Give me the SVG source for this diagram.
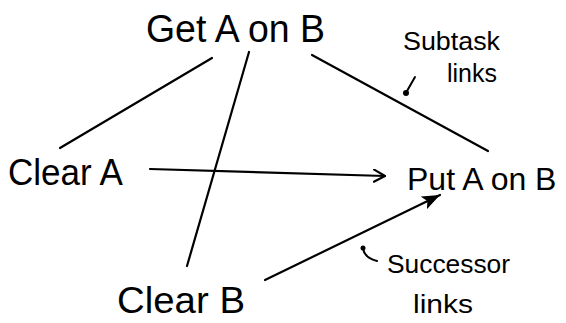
<svg xmlns="http://www.w3.org/2000/svg" width="566" height="323" viewBox="0 0 566 323">
  <style>
    .node { font-family: "Liberation Sans", "DejaVu Sans", sans-serif; fill: #000; }
    .note { font-family: "Liberation Sans", "DejaVu Sans", sans-serif; fill: #000; }
    .link { stroke: #000; stroke-width: 2.2; fill: none; stroke-linecap: round; }
    .ptr { stroke: #000; stroke-width: 2; fill: none; stroke-linecap: round; }
  </style>
  <defs>
    <marker id="open" markerWidth="14" markerHeight="14" refX="12" refY="7" orient="auto" markerUnits="userSpaceOnUse">
      <path d="M1,1 L12,7 L1,13" fill="none" stroke="#000" stroke-width="2.2" stroke-linecap="round" stroke-linejoin="round"/>
    </marker>
    <marker id="solid" markerWidth="20" markerHeight="16" refX="18" refY="8" orient="auto" markerUnits="userSpaceOnUse">
      <path d="M0,1 L18,8 L0,15 L4,8 Z" fill="#000"/>
    </marker>
  </defs>
  <rect width="566" height="323" fill="#fff"/>

  <g id="connectors">
    <line class="link" x1="212" y1="58" x2="60" y2="148"/>
    <line class="link" x1="249" y1="52" x2="187" y2="266"/>
    <line class="link" x1="312" y1="55" x2="488" y2="151"/>
    <line class="link" x1="150" y1="169" x2="385" y2="176" marker-end="url(#open)"/>
    <line class="link" x1="265" y1="280" x2="440" y2="195" marker-end="url(#solid)"/>
  </g>

  <g id="get-a-on-b">
    <text class="node" x="146" y="42" font-size="38" textLength="179" lengthAdjust="spacingAndGlyphs">Get A on B</text>
  </g>
  <g id="clear-a">
    <text class="node" x="8" y="185" font-size="36" textLength="115" lengthAdjust="spacingAndGlyphs">Clear A</text>
  </g>
  <g id="put-a-on-b">
    <text class="node" x="407" y="190" font-size="32">Put A on B</text>
  </g>
  <g id="clear-b">
    <text class="node" x="117" y="313" font-size="36" textLength="128" lengthAdjust="spacingAndGlyphs">Clear B</text>
  </g>

  <g id="subtask-label">
    <text class="note" x="403" y="50" font-size="26" textLength="97" lengthAdjust="spacingAndGlyphs">Subtask</text>
    <text class="note" x="447" y="82" font-size="26" textLength="50" lengthAdjust="spacingAndGlyphs">links</text>
    <path class="ptr" d="M415,77 L407,91"/>
    <circle cx="406" cy="93" r="3" fill="#000"/>
  </g>
  <g id="successor-label">
    <text class="note" x="387" y="273" font-size="26" textLength="123" lengthAdjust="spacingAndGlyphs">Successor</text>
    <text class="note" x="413" y="313" font-size="26" textLength="60" lengthAdjust="spacingAndGlyphs">links</text>
    <path class="ptr" d="M363,249 Q365,258 377,261"/>
    <circle cx="363" cy="248" r="2.5" fill="#000"/>
  </g>
</svg>
